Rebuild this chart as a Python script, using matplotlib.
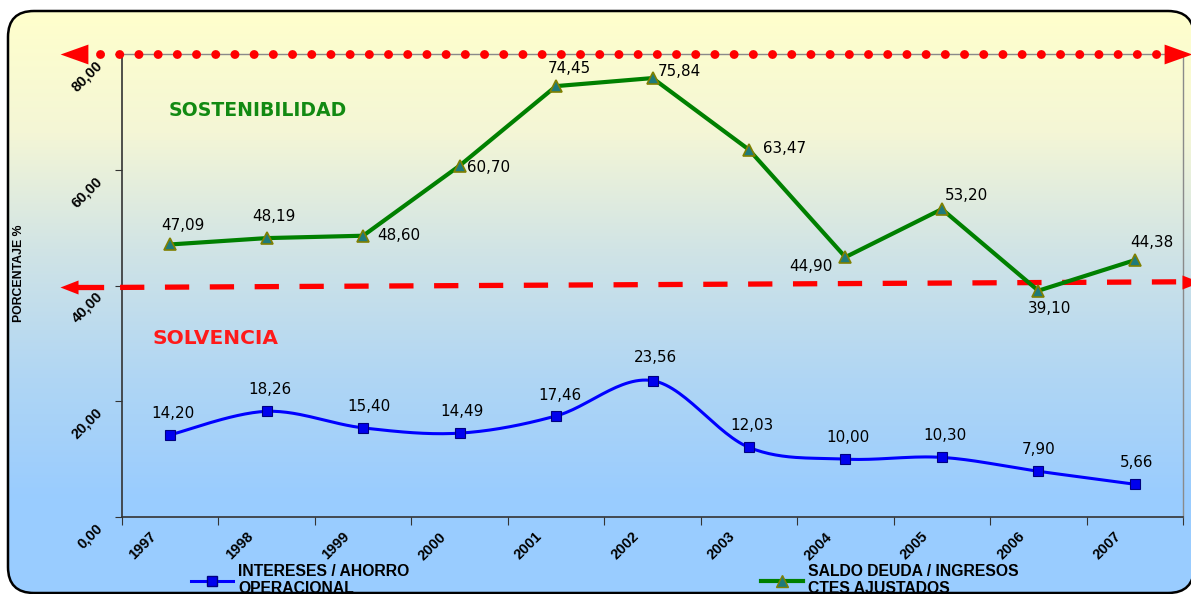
import numpy as np
import matplotlib.pyplot as plt
from matplotlib.patches import FancyBboxPatch, Polygon
from matplotlib.colors import LinearSegmentedColormap
import matplotlib.transforms as mtransforms

plt.rcParams['font.family'] = ['Liberation Sans', 'DejaVu Sans']

# series
years = ['1997', '1998', '1999', '2000', '2001', '2002', '2003', '2004', '2005', '2006', '2007']
saldo_deuda = [47.09, 48.19, 48.60, 60.70, 74.45, 75.84, 63.47, 44.90, 53.20, 39.10, 44.38]
intereses = [14.20, 18.26, 15.40, 14.49, 17.46, 23.56, 12.03, 10.00, 10.30, 7.90, 5.66]
y_ticks = [0, 20, 40, 60, 80]

# label offsets (points) for each data label
green_off = [(9, 14), (5.5, 15.5), (26, 0), (21, -1.5), (9.5, 13), (19, 5), (25.5, 0.5),
             (-24.5, -6.5), (17.5, 9.5), (8, -13), (12, 13)]
blue_off = [(2, 15.5), (2, 15.5), (4, 15.5), (2, 15.5), (3, 14.5), (2, 17), (2, 16),
            (1.5, 15.5), (2, 15.5), (0, 16), (1, 15.5)]

W, H = 1191, 594
fig = plt.figure(figsize=(W / 100, H / 100), dpi=100)

# background panel with vertical gradient (pixel units, y up)
bg = fig.add_axes([0, 0, 1, 1], zorder=-5)
bg.set_xlim(0, W)
bg.set_ylim(0, H)
bg.axis('off')
box = FancyBboxPatch((8, 1), 1194 - 8, 583 - 1, boxstyle='round,pad=0,rounding_size=26')
outline = box.get_path().to_polygons()[0]
panel = Polygon(outline, closed=True, facecolor='none', edgecolor='black', linewidth=1.8, zorder=2)
bg.add_patch(panel)
cmap = LinearSegmentedColormap.from_list('bgrad', ['#99ccff', '#b0d6f4', '#cfe3e6', '#f4f6d6', '#ffffcc'])
grad = np.linspace(0, 1, 256).reshape(-1, 1)
img = bg.imshow(grad, cmap=cmap, aspect='auto', origin='lower', extent=(0, W, 94, 583), zorder=1)
img.set_clip_path(panel)
lower = bg.imshow(np.ones((2, 2)), cmap=LinearSegmentedColormap.from_list('b', ['#99ccff', '#99ccff']),
                  aspect='auto', extent=(0, W, -5, 95), zorder=1)
lower.set_clip_path(panel)
bg.set_xlim(0, W)
bg.set_ylim(0, H)

ax = fig.add_axes([122 / W, (H - 517) / H, (1183 - 122) / W, (517 - 54) / H])
ax.patch.set_alpha(0)
x = np.arange(len(years))
ax.set_xlim(-0.5, len(years) - 0.5)
ax.set_ylim(0, 80)

for side in ['left', 'bottom']:
    ax.spines[side].set_color('#333333')
    ax.spines[side].set_linewidth(1.2)
for side in ['top', 'right']:
    ax.spines[side].set_color('#8a8a8a')
    ax.spines[side].set_linewidth(1.0)

ax.set_yticks(y_ticks)
ax.set_yticklabels([f'{v:.2f}'.replace('.', ',') for v in y_ticks], rotation=45,
                   fontsize=10.5, fontweight='bold', ha='right', va='top', rotation_mode='anchor')
ax.tick_params(axis='y', length=5, color='#333333', pad=8)
for lbl in ax.get_yticklabels():
    lbl.set_transform(lbl.get_transform() + mtransforms.ScaledTranslation(-6 / 72, -3 / 72, fig.dpi_scale_trans))

ax.set_xticks(np.arange(-0.5, len(years), 1.0))
ax.set_xticklabels([])
ax.tick_params(axis='x', which='major', length=6, color='#333333')
ax.set_xticks(x, minor=True)
ax.set_xticklabels(years, minor=True, rotation=45, fontsize=10.5, fontweight='bold',
                   ha='right', va='top', rotation_mode='anchor')
ax.tick_params(axis='x', which='minor', length=0, pad=11)
for lbl in ax.get_xticklabels(minor=True):
    lbl.set_transform(lbl.get_transform() + mtransforms.ScaledTranslation(-15 / 72, 2 / 72, fig.dpi_scale_trans))

ax.set_ylabel('PORCENTAJE %', fontsize=8.8, fontweight='bold', labelpad=0)
ax.yaxis.set_label_coords(-(122 - 25) / (1183 - 122), (517 - 273) / (517 - 54))


# smoothed line through the points (bezier, excel-like)
def smooth(xs, ys, n=30):
    px, py = [], []
    xs = list(xs)
    ys = list(ys)
    xe = [xs[0]] + xs + [xs[-1]]
    ye = [ys[0]] + ys + [ys[-1]]
    for i in range(1, len(xe) - 2):
        p0 = np.array([xe[i - 1], ye[i - 1]])
        p1 = np.array([xe[i], ye[i]])
        p2 = np.array([xe[i + 1], ye[i + 1]])
        p3 = np.array([xe[i + 2], ye[i + 2]])
        c1 = p1 + (p2 - p0) / 6
        c2 = p2 - (p3 - p1) / 6
        t = np.linspace(0, 1, n)[:, None]
        seg = (1 - t) ** 3 * p1 + 3 * (1 - t) ** 2 * t * c1 + 3 * (1 - t) * t ** 2 * c2 + t ** 3 * p2
        px.extend(seg[:, 0])
        py.extend(seg[:, 1])
    return px, py


sx, sy = smooth(x, intereses)
ax.plot(sx, sy, color='#0000ff', lw=2.2, zorder=4)
ax.plot(x, intereses, ls='none', marker='s', ms=7, mfc='#0000ee', mec='#000080', mew=0.8, zorder=5)
ax.plot(x, saldo_deuda, color='#008000', lw=3.0, zorder=4)
ax.plot(x, saldo_deuda, ls='none', marker='^', ms=8.5, mfc='#1f7a7a', mec='#808000', mew=1.2, zorder=5)

lbl_font = dict(family='DejaVu Sans', size=10.9)
for xi, v, off in zip(x, saldo_deuda, green_off):
    ax.annotate(f'{v:.2f}'.replace('.', ','), (xi, v), xytext=off, textcoords='offset points',
                ha='center', va='center', zorder=6, **lbl_font)
for xi, v, off in zip(x, intereses, blue_off):
    ax.annotate(f'{v:.2f}'.replace('.', ','), (xi, v), xytext=off, textcoords='offset points',
                ha='center', va='center', zorder=6, **lbl_font)

# threshold markers
big_head_l = [(-14, 0), (14, 10), (14, -10)]
big_head_r = [(14, 0), (-14, 10), (-14, -10)]
small_head_l = [(-9, 0), (9, 7), (9, -7)]
small_head_r = [(9, 0), (-9, 7), (-9, -7)]

ax.plot([-0.73, 10.27], [80, 80], color='#ff0000', lw=6.4, ls=(0, (0.01, 2.15)),
        dash_capstyle='round', clip_on=False, zorder=3)
ax.plot([-0.998], [80], marker=big_head_l, ms=20, color='#ff0000', mew=0, clip_on=False, zorder=3)
ax.plot([10.45], [80], marker=big_head_r, ms=20, color='#ff0000', mew=0, clip_on=False, zorder=3)

ax.plot([-0.52, 10.5], [39.67, 40.64], color='#ff0000', lw=3.8, ls=(0, (4.6, 3.9)),
        clip_on=False, zorder=3)
ax.plot([-0.95, -0.72], [39.67, 39.67], color='#ff0000', lw=3.8, clip_on=False, zorder=3)
ax.plot([-1.05], [39.67], marker=small_head_l, ms=13, color='#ff0000', mew=0, clip_on=False, zorder=3)
ax.plot([10.58], [40.65], marker=small_head_r, ms=13, color='#ff0000', mew=0, clip_on=False, zorder=3)

ax.text(0.91, 70.3, 'SOSTENIBILIDAD', color='#128a12', family='DejaVu Sans', fontsize=13.6,
        fontweight='bold', ha='center', va='center')
ax.text(0.47, 30.9, 'SOLVENCIA', color='#ff1a1a', family='DejaVu Sans', fontsize=14.5,
        fontweight='bold', ha='center', va='center')

# legend
h_blue, = ax.plot([], [], color='#0000ff', lw=2.2, marker='s', ms=7, mfc='#0000ee', mec='#000080')
h_green, = ax.plot([], [], color='#008000', lw=3.0, marker='^', ms=8.5, mfc='#1f7a7a', mec='#808000')
leg_kw = dict(frameon=False, loc='upper left', prop={'weight': 'bold', 'size': 11.3},
              handlelength=2.7, handletextpad=0.3, labelspacing=0, borderpad=0)
leg1 = fig.legend([h_blue], ['INTERESES / AHORRO\nOPERACIONAL'], bbox_to_anchor=(183 / W, 1 - 556 / H), **leg_kw)
leg2 = fig.legend([h_green], ['SALDO DEUDA / INGRESOS\nCTES AJUSTADOS'], bbox_to_anchor=(753 / W, 1 - 556 / H), **leg_kw)
for leg in (leg1, leg2):
    for t in leg.get_texts():
        t.set_linespacing(1.2)

fig.savefig('out.png', dpi=100)
